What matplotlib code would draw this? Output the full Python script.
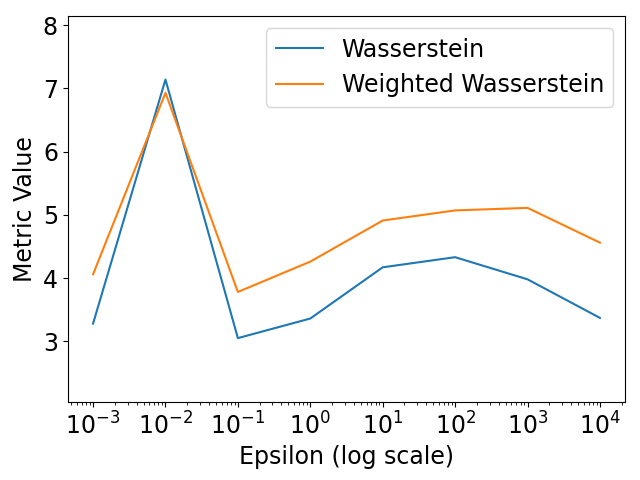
import matplotlib.pyplot as plt
from matplotlib.ticker import LogLocator, NullFormatter

epsilons = [1e-3, 1e-2, 1e-1, 1e0, 1e1, 1e2, 1e3, 1e4]
wasserstein = [3.28, 7.14, 3.05, 3.36, 4.17, 4.33, 3.98, 3.37]
weighted_wasserstein = [4.06, 6.93, 3.78, 4.26, 4.91, 5.07, 5.11, 4.56]


def main():
    fig, ax = plt.subplots(figsize=(6.4, 4.8), dpi=100)
    ax.plot(epsilons, wasserstein, label="Wasserstein")
    ax.plot(epsilons, weighted_wasserstein, label="Weighted Wasserstein")
    ax.set_xscale('log')
    ax.set_xticks(epsilons)
    ax.xaxis.set_minor_locator(LogLocator(base=10, subs=range(2, 10), numticks=100))
    ax.xaxis.set_minor_formatter(NullFormatter())
    ax.set_ylim(2.035, 8.14)
    ax.set_xlabel("Epsilon (log scale)", fontsize=17)
    ax.set_ylabel("Metric Value", fontsize=17)
    ax.tick_params(labelsize=17)
    ax.legend(fontsize=17)
    fig.subplots_adjust(left=0.1058, right=0.977, top=0.966, bottom=0.1619)
    fig.savefig("out.png")


if __name__ == '__main__':
    main()
